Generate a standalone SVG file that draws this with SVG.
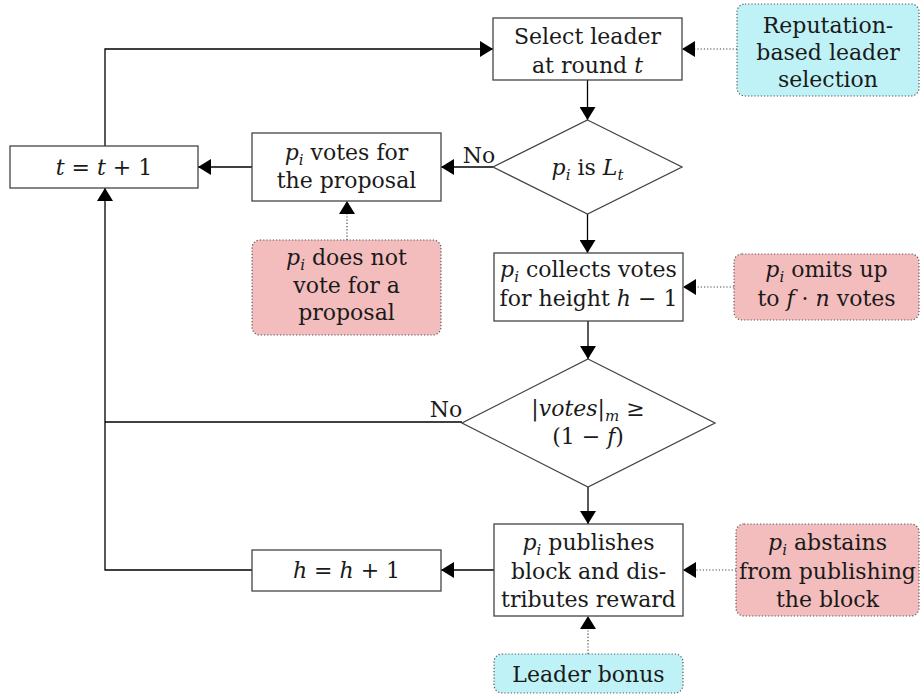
<svg xmlns="http://www.w3.org/2000/svg" width="920" height="700" viewBox="0 0 920 700" font-family="DejaVu Serif, Liberation Serif, Noto Serif, Times New Roman, Times, serif">
<defs>
<marker id="ah" markerUnits="userSpaceOnUse" markerWidth="14" markerHeight="16" refX="13" refY="8" orient="auto">
<path d="M0,0 L13,8 L0,16 z" fill="#000" stroke="none"/>
</marker>
<style>
text{font-family:"DejaVu Serif","Liberation Serif","Noto Serif","Times New Roman",Times,serif;font-size:22px;fill:#1a1a1a;text-anchor:middle}
.i{font-style:italic}
.s{font-size:15px;font-style:italic}
.box{fill:#fff;stroke:#444;stroke-width:1.3}
.cy{fill:#bff2f6;stroke:#555;stroke-width:1.2;stroke-dasharray:1.2 2}
.rd{fill:#f4bdbd;stroke:#555;stroke-width:1.2;stroke-dasharray:1.2 2}
.ln{fill:none;stroke:#000;stroke-width:1.3}
.dt{fill:none;stroke:#444;stroke-width:1.2;stroke-dasharray:1.2 2}
</style>
</defs>
<rect width="920" height="700" fill="#fff"/>
<g id="connectors">
<path class="ln" d="M587.5,80 V120" marker-end="url(#ah)"/>
<path class="ln" d="M493,167 H441" marker-end="url(#ah)"/>
<path class="ln" d="M252,167 H198" marker-end="url(#ah)"/>
<path class="ln" d="M105,146 V49 H493" marker-end="url(#ah)"/>
<path class="dt" d="M737,49 H682" marker-end="url(#ah)"/>
<path class="dt" d="M347,240 V201" marker-end="url(#ah)"/>
<path class="ln" d="M587.5,214 V253" marker-end="url(#ah)"/>
<path class="dt" d="M734,287 H683" marker-end="url(#ah)"/>
<path class="ln" d="M588,321 V359" marker-end="url(#ah)"/>
<path class="ln" d="M462,422 H105"/>
<path class="ln" d="M252,570 H105 V188" marker-end="url(#ah)"/>
<path class="ln" d="M588,487 V524" marker-end="url(#ah)"/>
<path class="ln" d="M494,570 H441" marker-end="url(#ah)"/>
<path class="dt" d="M736,570 H683" marker-end="url(#ah)"/>
<path class="dt" d="M588,654 V616" marker-end="url(#ah)"/>
<text x="479" y="163">No</text>
<text x="446" y="417">No</text>
</g>
<g id="select">
<rect class="box" x="493" y="18" width="189" height="62"/>
<text x="587.5" y="44">Select leader</text>
<text x="587.5" y="73">at round <tspan class="i">t</tspan></text>
</g>
<g id="reputation">
<rect class="cy" x="737" y="4" width="182" height="92" rx="8"/>
<text x="828" y="33">Reputation-</text>
<text x="828" y="60">based leader</text>
<text x="828" y="87">selection</text>
</g>
<g id="isleader">
<path class="box" d="M587.5,120 L682,167 L587.5,214 L493,167 z"/>
<text x="587.5" y="175"><tspan class="i">p</tspan><tspan class="s" dy="5">i</tspan><tspan dy="-5"> is </tspan><tspan class="i">L</tspan><tspan class="s" dy="5">t</tspan></text>
</g>
<g id="tinc">
<rect class="box" x="10" y="146" width="188" height="42"/>
<text x="104" y="175"><tspan class="i">t</tspan> = <tspan class="i">t</tspan> + 1</text>
</g>
<g id="votes">
<rect class="box" x="252" y="133" width="189" height="68"/>
<text x="346.5" y="160"><tspan class="i">p</tspan><tspan class="s" dy="5">i</tspan><tspan dy="-5"> votes for</tspan></text>
<text x="346.5" y="188">the proposal</text>
</g>
<g id="novote">
<rect class="rd" x="252" y="240" width="189" height="95" rx="8"/>
<text x="346.5" y="265"><tspan class="i">p</tspan><tspan class="s" dy="5">i</tspan><tspan dy="-5"> does not</tspan></text>
<text x="346.5" y="293">vote for a</text>
<text x="346.5" y="320">proposal</text>
</g>
<g id="collects">
<rect class="box" x="494" y="253" width="189" height="68"/>
<text x="588.5" y="277"><tspan class="i">p</tspan><tspan class="s" dy="5">i</tspan><tspan dy="-5"> collects votes</tspan></text>
<text x="588.5" y="306">for height <tspan class="i">h</tspan> − 1</text>
</g>
<g id="omits">
<rect class="rd" x="734" y="254" width="185" height="66" rx="8"/>
<text x="826.5" y="277"><tspan class="i">p</tspan><tspan class="s" dy="5">i</tspan><tspan dy="-5"> omits up</tspan></text>
<text x="826.5" y="306">to <tspan class="i">f</tspan> · <tspan class="i">n</tspan> votes</text>
</g>
<g id="quorum">
<path class="box" d="M588,359 L715,423 L588,487 L462,423 z"/>
<text x="588" y="416">|<tspan class="i">votes</tspan>|<tspan class="s" dy="5">m</tspan><tspan dy="-5"> ≥</tspan></text>
<text x="588" y="444">(1 − <tspan class="i">f</tspan>)</text>
</g>
<g id="publishes">
<rect class="box" x="494" y="524" width="189" height="92"/>
<text x="588.5" y="550"><tspan class="i">p</tspan><tspan class="s" dy="5">i</tspan><tspan dy="-5"> publishes</tspan></text>
<text x="588.5" y="579">block and dis-</text>
<text x="588.5" y="607">tributes reward</text>
</g>
<g id="abstains">
<rect class="rd" x="736" y="524" width="183" height="92" rx="8"/>
<text x="827.5" y="550"><tspan class="i">p</tspan><tspan class="s" dy="5">i</tspan><tspan dy="-5"> abstains</tspan></text>
<text x="827.5" y="579">from publishing</text>
<text x="827.5" y="607">the block</text>
</g>
<g id="hinc">
<rect class="box" x="252" y="550" width="189" height="41"/>
<text x="346.5" y="578"><tspan class="i">h</tspan> = <tspan class="i">h</tspan> + 1</text>
</g>
<g id="bonus">
<rect class="cy" x="494" y="654" width="189" height="39" rx="8"/>
<text x="588.5" y="682">Leader bonus</text>
</g>
</svg>
